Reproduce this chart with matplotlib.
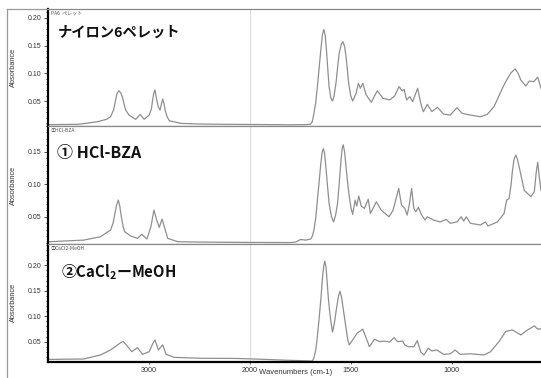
import numpy as np
import matplotlib
matplotlib.use("Agg")
import matplotlib.pyplot as plt
from matplotlib.ticker import FixedLocator, MultipleLocator, FormatStrFormatter
from matplotlib.lines import Line2D

plt.rcParams['font.family'] = ['Liberation Sans', 'DejaVu Sans']
plt.rcParams['mathtext.fontset'] = 'dejavusans'

# ---------------- data ----------------
wn1 = [3990, 3700, 3513, 3420, 3380, 3350, 3330, 3315, 3297, 3280, 3263, 3245, 3230, 3197, 3130,
       3087, 3047, 2997, 2975, 2963, 2950, 2940, 2925, 2907, 2890, 2875, 2863, 2850, 2840, 2820,
       2797, 2680, 2480, 2200, 2000, 1800, 1720, 1698, 1690, 1682, 1673, 1665, 1655, 1648, 1640,
       1633, 1626, 1620, 1613, 1607, 1598, 1590, 1582, 1573, 1565, 1557, 1546, 1538, 1530, 1523,
       1516, 1510, 1500, 1490, 1473, 1462, 1452, 1440, 1423, 1398, 1368, 1340, 1307, 1282, 1260,
       1245, 1235, 1223, 1207, 1193, 1168, 1153, 1140, 1120, 1098, 1070, 1040, 1007, 973, 948, 907,
       857, 823, 790, 748, 727, 705, 685, 670, 657, 632, 615, 593, 573, 557, 535]
abs1 = [0.0075, 0.008, 0.0126, 0.017, 0.0217, 0.034, 0.0518, 0.064, 0.0686, 0.065, 0.0578, 0.044,
        0.0338, 0.0247, 0.017, 0.026, 0.017, 0.0247, 0.036, 0.052, 0.065, 0.0699, 0.055, 0.0397,
        0.0338, 0.045, 0.0536, 0.046, 0.034, 0.022, 0.0144, 0.0097, 0.0085, 0.008, 0.0078, 0.0072,
        0.0075, 0.0085, 0.013, 0.0278, 0.048, 0.0758, 0.115, 0.142, 0.170, 0.179, 0.168, 0.142,
        0.105, 0.076, 0.055, 0.05, 0.060, 0.082, 0.110, 0.136, 0.153, 0.157, 0.148, 0.13, 0.105,
        0.082, 0.060, 0.05, 0.064, 0.082, 0.073, 0.082, 0.061, 0.0477, 0.0686, 0.055, 0.052, 0.059,
        0.076, 0.0686, 0.071, 0.052, 0.058, 0.0488, 0.073, 0.046, 0.0307, 0.044, 0.031, 0.0386,
        0.0265, 0.0247, 0.038, 0.0278, 0.0247, 0.0217, 0.026, 0.0397, 0.073, 0.088, 0.101, 0.108,
        0.100, 0.088, 0.077, 0.086, 0.085, 0.093, 0.073, 0.067]

wn2 = [3990, 3647, 3480, 3380, 3355, 3337, 3320, 3303, 3288, 3273, 3255, 3240, 3180, 3113, 3070,
       3020, 2980, 2962, 2950, 2935, 2923, 2897, 2870, 2847, 2813, 2713, 2480, 2100, 1800, 1773,
       1748, 1723, 1698, 1690, 1682, 1673, 1665, 1656, 1648, 1641, 1635, 1629, 1623, 1615, 1607,
       1595, 1585, 1575, 1565, 1556, 1548, 1542, 1537, 1530, 1523, 1515, 1507, 1498, 1490, 1478,
       1470, 1460, 1448, 1432, 1413, 1402, 1373, 1348, 1310, 1290, 1262, 1248, 1232, 1220, 1210,
       1198, 1187, 1177, 1165, 1148, 1132, 1120, 1090, 1057, 1027, 1007, 973, 953, 940, 927, 907,
       857, 832, 820, 773, 740, 727, 715, 705, 698, 690, 682, 674, 665, 652, 640, 607, 590, 580,
       573, 565, 557, 545, 535]
abs2 = [0.0115, 0.014, 0.0192, 0.0295, 0.040, 0.055, 0.068, 0.0757, 0.066, 0.05, 0.035, 0.027,
        0.0203, 0.0167, 0.023, 0.0157, 0.0346, 0.050, 0.0603, 0.052, 0.045, 0.0337, 0.0465, 0.0346,
        0.0167, 0.0115, 0.011, 0.0105, 0.0102, 0.011, 0.015, 0.014, 0.0157, 0.020, 0.0295, 0.048,
        0.0757, 0.105, 0.132, 0.150, 0.155, 0.147, 0.127, 0.098, 0.0706, 0.050, 0.042, 0.052,
        0.0706, 0.105, 0.137, 0.156, 0.161, 0.150, 0.127, 0.102, 0.0808, 0.063, 0.0537, 0.0757,
        0.0665, 0.082, 0.0665, 0.063, 0.077, 0.055, 0.073, 0.060, 0.05, 0.060, 0.0937, 0.068,
        0.063, 0.0526, 0.068, 0.0937, 0.063, 0.0577, 0.0645, 0.0526, 0.045, 0.05, 0.045, 0.042,
        0.046, 0.040, 0.042, 0.05, 0.0434, 0.05, 0.040, 0.0373, 0.042, 0.0357, 0.042, 0.055,
        0.0757, 0.078, 0.100, 0.122, 0.139, 0.145, 0.139, 0.127, 0.108, 0.091, 0.081, 0.0885,
        0.120, 0.134, 0.110, 0.091, 0.086, 0.0757]

wn3 = [3990, 3647, 3480, 3380, 3300, 3270, 3253, 3230, 3197, 3170, 3113, 3063, 2997, 2962, 2940,
       2920, 2907, 2863, 2830, 2747, 2480, 2163, 1998, 1823, 1690, 1682, 1673, 1665, 1657, 1648,
       1640, 1633, 1628, 1622, 1617, 1612, 1605, 1598, 1590, 1580, 1570, 1560, 1553, 1545, 1535,
       1523, 1515, 1507, 1468, 1440, 1407, 1382, 1357, 1332, 1307, 1285, 1268, 1243, 1232, 1215,
       1187, 1170, 1153, 1137, 1115, 1098, 1073, 1040, 1007, 982, 957, 907, 840, 807, 765, 732,
       698, 657, 623, 590, 573, 557, 540]
abs3 = [0.015, 0.0158, 0.0237, 0.0336, 0.045, 0.049, 0.05, 0.045, 0.037, 0.0302, 0.0381, 0.025,
        0.0302, 0.046, 0.0534, 0.042, 0.0336, 0.0435, 0.025, 0.019, 0.0172, 0.017, 0.0161, 0.0135,
        0.0118, 0.018, 0.0336, 0.060, 0.093, 0.132, 0.175, 0.200, 0.208, 0.196, 0.170, 0.142,
        0.112, 0.0895, 0.0686, 0.088, 0.116, 0.140, 0.149, 0.137, 0.109, 0.0765, 0.055, 0.0435,
        0.0666, 0.0745, 0.040, 0.0547, 0.05, 0.051, 0.049, 0.058, 0.05, 0.051, 0.0435, 0.040,
        0.040, 0.052, 0.030, 0.0237, 0.037, 0.0316, 0.0336, 0.025, 0.026, 0.0336, 0.025, 0.026,
        0.0237, 0.030, 0.05, 0.0698, 0.073, 0.063, 0.073, 0.081, 0.0745, 0.0755, 0.070]

big_labels = ["ナイロン6ペレット", "① HCl-BZA", "②CaCl$_\\mathregular{2}$ーMeOH"]
big_sizes = [10.3, 11.5, 10.8]
small_labels = ["PA6  ペレット", "①HCl-BZA", "②CaCl2-MeOH"]
ylims = [(0.005, 0.216), (0.008, 0.19), (0.0105, 0.242)]
yticks = [[0.05, 0.10, 0.15, 0.20], [0.05, 0.10, 0.15], [0.05, 0.10, 0.15, 0.20]]
xticks = [3000, 2000, 1500, 1000]
series = [(wn1, abs1), (wn2, abs2), (wn3, abs3)]

# ---------------- figure ----------------
W, H = 541, 378
fig = plt.figure(figsize=(W / 100, H / 100), dpi=100)

def fwd(w):
    w = np.asarray(w, dtype=float)
    return np.where(w < 2000, 2 * w, w + 2000)

def inv(u):
    u = np.asarray(u, dtype=float)
    return np.where(u < 4000, u / 2, u - 2000)

bounds = [9, 126, 244, 361.7]
left = 48 / W
for i in range(3):
    top = 1 - bounds[i] / H
    bot = 1 - bounds[i + 1] / H
    ax = fig.add_axes([left, bot, 1.0 - left + 0.01, top - bot])
    ax.set_xscale('function', functions=(fwd, inv))
    ax.set_xlim(4000, 530)
    ax.set_ylim(*ylims[i])
    wn, ab = series[i]
    ax.axvline(2000, color='#dddddd', lw=0.8, zorder=0)
    ax.plot(wn, ab, color='#8f8f8f', lw=0.9, solid_joinstyle='round')
    ax.yaxis.set_major_locator(FixedLocator(yticks[i]))
    ax.yaxis.set_minor_locator(MultipleLocator(0.01))
    ax.yaxis.set_major_formatter(FormatStrFormatter('%.2f'))
    ax.tick_params(axis='y', which='major', direction='out', length=3, width=0.6,
                   labelsize=5, pad=1.5, colors='#333333')
    ax.tick_params(axis='y', which='minor', direction='out', length=1.5, width=0.5)
    ax.xaxis.set_major_locator(FixedLocator(xticks))
    ax.xaxis.set_minor_locator(FixedLocator([]))
    ax.spines['right'].set_visible(False)
    ax.spines['left'].set_color('black')
    ax.spines['left'].set_linewidth(1.6)
    ax.spines['top'].set_color('#888888')
    ax.spines['top'].set_linewidth(0.9)
    if i < 2:
        ax.spines['bottom'].set_color('#888888')
        ax.spines['bottom'].set_linewidth(0.9)
        ax.tick_params(axis='x', which='both', bottom=False, labelbottom=False)
    else:
        ax.spines['bottom'].set_color('black')
        ax.spines['bottom'].set_linewidth(1.6)
        ax.tick_params(axis='x', which='major', direction='out', length=1.5, width=0.5,
                       labelsize=5.2, pad=2, colors='#333333')
    ax.set_ylabel('Absorbance', fontsize=5.3, color='#333333')
    ax.yaxis.set_label_coords(-0.062, 0.5)
    ax.text(0.006, 0.985, small_labels[i], transform=ax.transAxes, fontsize=3.6,
            family=['Noto Sans CJK JP', 'DejaVu Sans'], va='top', ha='left', color='#555555')

label_pos = [(58, 33), (57, 153), (61, 272)]
for i, (px, py) in enumerate(label_pos):
    fig.text(px / W, 1 - py / H, big_labels[i], fontsize=big_sizes[i], fontweight='bold',
             family=['Noto Sans CJK JP', 'DejaVu Sans'], va='center', ha='left', color='#111111')

fig.text(296 / W, 1 - 373 / H, 'Wavenumbers (cm-1)', fontsize=5.5, ha='center', va='center',
         color='#333333')

# outer frame lines
fig.add_artist(Line2D([7 / W, 7 / W], [1 - 9 / H, 0], transform=fig.transFigure,
                      color='#999999', lw=0.9))
fig.add_artist(Line2D([7 / W, left], [1 - 9 / H, 1 - 9 / H], transform=fig.transFigure,
                      color='#999999', lw=0.9))

fig.savefig('out.png', dpi=100)
